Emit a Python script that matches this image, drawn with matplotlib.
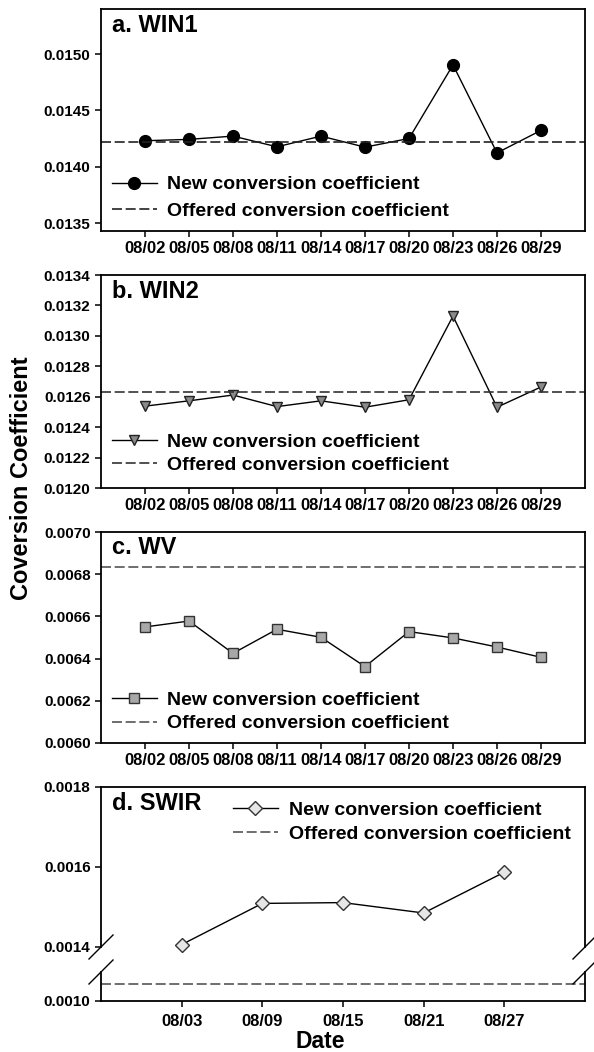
import numpy as np
import matplotlib
matplotlib.use('Agg')
import matplotlib.pyplot as plt
from matplotlib.lines import Line2D
from matplotlib.ticker import FormatStrFormatter

plt.rcParams['font.family'] = ['Liberation Sans', 'DejaVu Sans']
plt.rcParams['font.weight'] = 'bold'

# dates as day of August
days = [2, 5, 8, 11, 14, 17, 20, 23, 26, 29]
day_labels = ['08/02', '08/05', '08/08', '08/11', '08/14',
              '08/17', '08/20', '08/23', '08/26', '08/29']

win1_new = [0.014231, 0.014243, 0.014272, 0.014177, 0.014272,
            0.014174, 0.014251, 0.014904, 0.014123, 0.014323]
win1_offered = 0.014219

win2_new = [0.012538, 0.012573, 0.012611, 0.012535, 0.012573,
            0.012531, 0.012580, 0.013130, 0.012531, 0.012664]
win2_offered = 0.012630

wv_new = [0.006550, 0.006578, 0.006425, 0.006539, 0.006501,
          0.006362, 0.006528, 0.006498, 0.006455, 0.006406]
wv_offered = 0.006836

swir_days = [3, 9, 15, 21, 27]
swir_labels = ['08/03', '08/09', '08/15', '08/21', '08/27']
swir_new = [0.001406, 0.001509, 0.001511, 0.001485, 0.001587]
swir_offered = 0.00106

W, H = 594, 1052
fig = plt.figure(figsize=(W / 100, H / 100), dpi=100)


def px_axes(left, top, right, bottom):
    return fig.add_axes([left / W, 1 - bottom / H, (right - left) / W, (bottom - top) / H])


def style(ax):
    for s in ax.spines.values():
        s.set_linewidth(1.3)
    ax.tick_params(direction='out', length=4.5, width=1.1, pad=3)
    ax.tick_params(axis='y', labelsize=11)
    ax.tick_params(axis='x', labelsize=12)
    ax.yaxis.set_major_formatter(FormatStrFormatter('%.4f'))


new_lbl = 'New conversion coefficient'
off_lbl = 'Offered conversion coefficient'
dash = (6, 2.2)
leg_kw = dict(loc='center left', frameon=False, fontsize=14, handlelength=2.3,
              handletextpad=0.55, borderpad=0, borderaxespad=0)

panels = [
    ('a. WIN1', win1_new, win1_offered, (9, 231), (0.01343, 0.0154),
     np.arange(0.0135, 0.01501, 0.0005), dict(marker='o', mfc='black', mec='black', ms=8.5),
     0.15, 0.45, '#222222'),
    ('b. WIN2', win2_new, win2_offered, (275, 488), (0.0120, 0.0134),
     np.arange(0.0120, 0.01341, 0.0002), dict(marker='v', mfc='#8a8a8a', mec='#222222', ms=7),
     0.162, 0.25, '#333333'),
    ('c. WV', wv_new, wv_offered, (532, 743), (0.0060, 0.0070),
     np.arange(0.0060, 0.00701, 0.0002), dict(marker='s', mfc='#a8a8a8', mec='#333333', ms=7),
     0.147, 0.28, '#555555'),
]

for title, new, off, (top, bot), ylim, yt, mk, leg_y, lsp, dcol in panels:
    ax = px_axes(101, top, 585, bot)
    style(ax)
    ax.plot(days, new, color='black', lw=1.0, label=new_lbl, **mk)
    ax.axhline(off, color=dcol, lw=1.2, dashes=dash, label=off_lbl)
    ax.set_xlim(-1, 32)
    ax.set_ylim(*ylim)
    ax.set_yticks(yt)
    ax.set_xticks(days)
    ax.set_xticklabels(day_labels)
    ax.text(0.023, (bot - (top + 16)) / (bot - top), title, transform=ax.transAxes,
            fontsize=17, fontweight='bold', va='center', ha='left')
    ax.legend(bbox_to_anchor=(0.0227, leg_y), labelspacing=lsp, **leg_kw)

# d. SWIR, broken y axis
ax_up = px_axes(101, 787, 585, 947)
ax_lo = px_axes(101, 972, 585, 1001)
for ax in (ax_up, ax_lo):
    style(ax)
    ax.set_xlim(-3, 33)
ax_up.spines['bottom'].set_visible(False)
ax_lo.spines['top'].set_visible(False)
ax_up.tick_params(axis='x', bottom=False, labelbottom=False)

ax_up.plot(swir_days, swir_new, color='black', lw=1.0, marker='D', mfc='#e6e6e6',
           mec='#333333', ms=7, label=new_lbl, clip_on=False)
ax_up.plot([], [], color='#555555', lw=1.2, dashes=dash, label=off_lbl)
ax_lo.axhline(swir_offered, color='#555555', lw=1.2, dashes=dash)

ax_up.set_ylim(0.0014, 0.0018)
ax_up.set_yticks([0.0014, 0.0016, 0.0018])
ax_lo.set_ylim(0.0010, 0.0011)
ax_lo.set_yticks([0.0010])
ax_lo.set_xticks(swir_days)
ax_lo.set_xticklabels(swir_labels)
ax_lo.tick_params(axis='x', pad=5)

ax_up.text(0.023, 0.9, 'd. SWIR', transform=ax_up.transAxes, fontsize=17,
           fontweight='bold', va='center', ha='left')
ax_up.legend(bbox_to_anchor=(0.273, 0.78), labelspacing=0.3, **leg_kw)

# break marks
dx, dy = 12 / W, 12 / H
for xs in (101 / W, 585 / W):
    for ys in (1 - 947 / H, 1 - 972 / H):
        fig.add_artist(Line2D([xs - dx, xs + dx], [ys - dy, ys + dy],
                              transform=fig.transFigure, color='black', lw=1.0))

fig.text(22 / W, 1 - 478 / H, 'Coversion Coefficient', rotation=90, fontsize=17,
         fontweight='bold', ha='center', va='center')
fig.text(320 / W, 1 - 1042 / H, 'Date', fontsize=16.5, fontweight='bold',
         ha='center', va='center')

fig.savefig('out.png', dpi=100)
